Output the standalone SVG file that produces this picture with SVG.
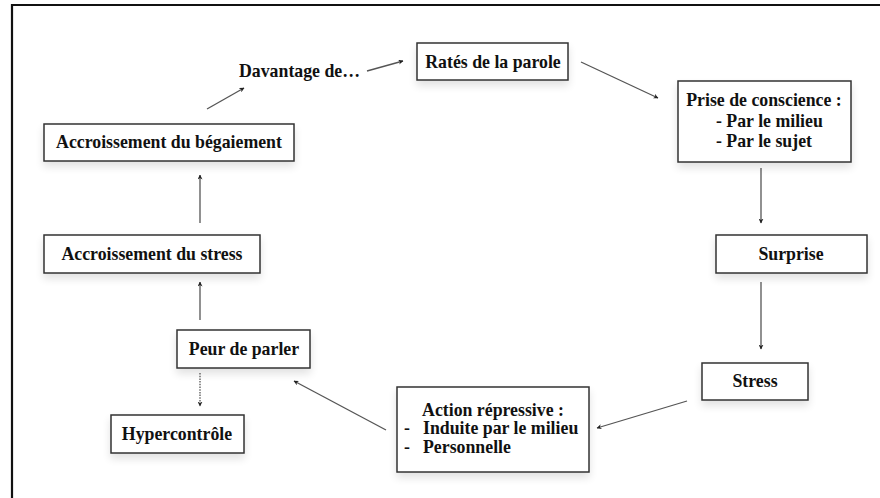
<svg xmlns="http://www.w3.org/2000/svg" width="880" height="498" viewBox="0 0 880 498">
<style>
.box{fill:#fff;stroke:#333;stroke-width:1.5;filter:url(#sh)}
.t{font-family:"Liberation Serif","Times New Roman",serif;font-weight:bold;font-size:17.8px;fill:#111}
.c{text-anchor:middle}
.ln{stroke:#555;stroke-width:1.3;fill:none;marker-end:url(#ah)}
.dot{stroke-dasharray:1.5 1.2}
</style>
<defs>
<marker id="ah" viewBox="0 0 10 10" refX="9" refY="5" markerWidth="5" markerHeight="5" orient="auto" markerUnits="userSpaceOnUse">
<path d="M0,0 L10,5 L0,10 L3,5 Z" fill="#222"/>
</marker>
<filter id="sh" x="-20%" y="-20%" width="140%" height="160%">
<feGaussianBlur in="SourceAlpha" stdDeviation="4"/>
<feOffset dy="5"/>
<feComponentTransfer><feFuncA type="linear" slope="0.12"/></feComponentTransfer>
<feMerge><feMergeNode/><feMergeNode in="SourceGraphic"/></feMerge>
</filter>
</defs>
<rect width="880" height="498" fill="#fff"/>
<path d="M12,498 L12,5 L880,5" fill="none" stroke="#111" stroke-width="2.2"/>

<g id="connectors">
<line class="ln" x1="367" y1="71" x2="403" y2="61"/>
<line class="ln" x1="207" y1="109" x2="244" y2="88"/>
<line class="ln" x1="200" y1="223" x2="200" y2="175"/>
<line class="ln" x1="200" y1="320" x2="200" y2="282"/>
<line class="ln dot" x1="200" y1="373" x2="200" y2="406"/>
<line class="ln" x1="386" y1="430" x2="294" y2="381"/>
<line class="ln" x1="687" y1="401" x2="597" y2="428"/>
<line class="ln" x1="761" y1="282" x2="761" y2="349"/>
<line class="ln" x1="761" y1="168" x2="761" y2="223"/>
<line class="ln" x1="581" y1="62" x2="658" y2="98"/>
</g>

<g id="davantage"><text class="t" x="239" y="77">Davantage de…</text></g>

<g id="rates">
<rect class="box" x="417" y="43" width="151" height="37"/>
<text class="t c" x="493" y="68">Ratés de la parole</text>
</g>

<g id="prise">
<rect class="box" x="678" y="81" width="173" height="81"/>
<text class="t c" x="764" y="106">Prise de conscience :</text>
<text class="t" x="716" y="127">- Par le milieu</text>
<text class="t" x="716" y="147">- Par le sujet</text>
</g>

<g id="surprise">
<rect class="box" x="716" y="235" width="151" height="38"/>
<text class="t c" x="791" y="260">Surprise</text>
</g>

<g id="stress">
<rect class="box" x="702" y="363" width="106" height="37"/>
<text class="t c" x="755" y="387">Stress</text>
</g>

<g id="action">
<rect class="box" x="397" y="387" width="192" height="85"/>
<text class="t c" x="493" y="416">Action répressive :</text>
<text class="t" x="404" y="434">-</text>
<text class="t" x="423" y="434">Induite par le milieu</text>
<text class="t" x="404" y="453">-</text>
<text class="t" x="423" y="453">Personnelle</text>
</g>

<g id="peur">
<rect class="box" x="177" y="330" width="133" height="38"/>
<text class="t c" x="244" y="355">Peur de parler</text>
</g>

<g id="hyper">
<rect class="box" x="111" y="415" width="133" height="38"/>
<text class="t c" x="177" y="440">Hypercontrôle</text>
</g>

<g id="acc-stress">
<rect class="box" x="44" y="235" width="216" height="38"/>
<text class="t c" x="152" y="260">Accroissement du stress</text>
</g>

<g id="acc-begaiement">
<rect class="box" x="44" y="124" width="250" height="37"/>
<text class="t c" x="169" y="148">Accroissement du bégaiement</text>
</g>
</svg>
